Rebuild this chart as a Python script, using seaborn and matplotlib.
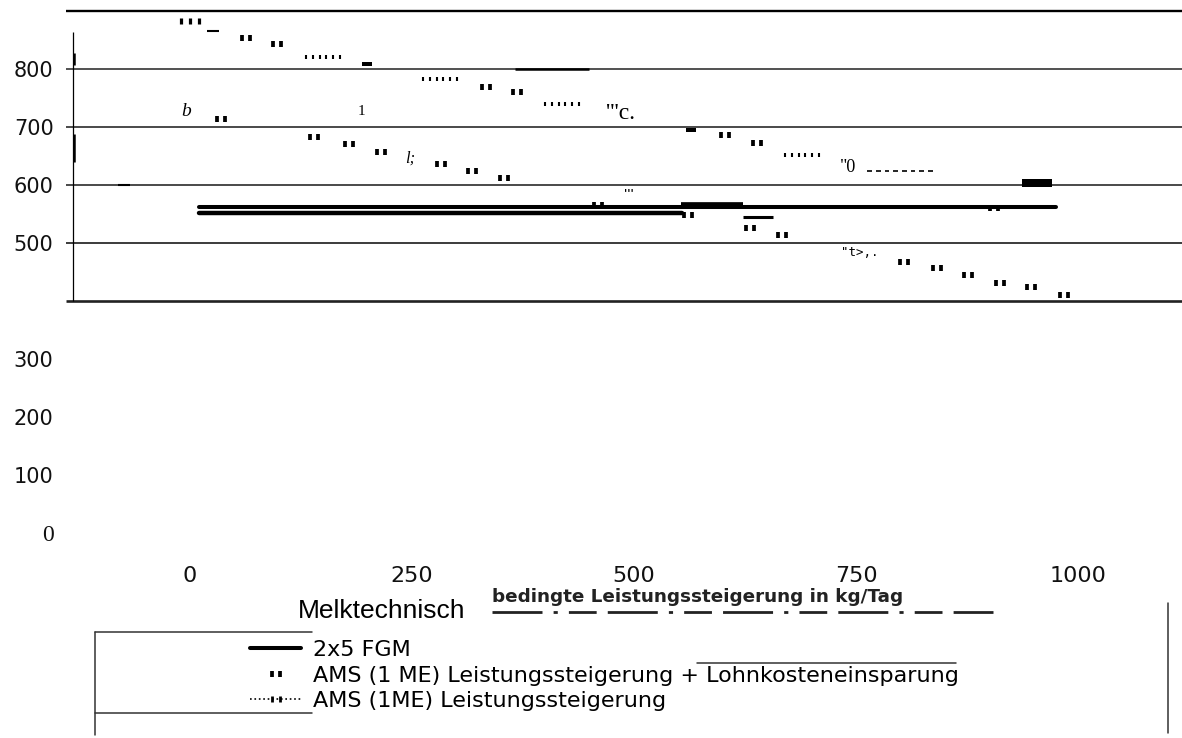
import numpy as np
import pandas as pd
import matplotlib
matplotlib.use("Agg")
import matplotlib.pyplot as plt
import seaborn as sns
from matplotlib.path import Path
from matplotlib.markers import MarkerStyle
from matplotlib.lines import Line2D

# ------------------------------------------------------------------ data
x_ticks = [0, 250, 500, 750, 1000]
y_ticks = [0, 100, 200, 300, 500, 600, 700, 800]
y_tick_labels = ["0", "100", "200", "300", "500", "600", "700", "800"]
grid_levels = [400, 500, 600, 700, 800, 900]

series_names = ["2x5 FGM",
                "AMS (1 ME) Leistungssteigerung + Lohnkosteneinsparung",
                "AMS (1ME) Leistungssteigerung"]

# AMS (1 ME) Leistungssteigerung + Lohnkosteneinsparung
ams_lohn_x = [0, 26, 63, 98, 150, 199, 282, 333, 368, 419, 485, 564, 602, 638, 689, 741, 802, 954]
ams_lohn_y = [883, 866, 853, 843, 821, 809, 783, 769, 760, 740, 724, 695, 686, 672, 652, 631, 624, 603]
ams_lohn_glyph = ["tick3", "dash", "pair", "pair", "run6", "bar", "run6", "pair", "pair", "run6",
                  "txt", "bar", "pair", "pair", "run6", "txt", "dashes", "bigbar"]
ams_lohn_txt = {10: "'''c.", 15: '"0'}

# AMS (1ME) Leistungssteigerung
ams_x = [-4, 35, 140, 179, 215, 248, 283, 318, 354, 561, 631, 667, 754, 804, 841, 876, 912, 947, 984]
ams_y = [726, 714, 683, 671, 657, 645, 636, 624, 612, 548, 526, 514, 484, 467, 457, 445, 431, 424, 410]
ams_glyph = ["txt", "pair", "pair", "pair", "pair", "txt", "pair", "pair", "pair", "pair", "pair",
             "pair", "txt", "pair", "pair", "pair", "pair", "pair", "pair"]
ams_txt = {0: "b", 5: "l;", 12: '"t>,.'}

# 2x5 FGM
fgm_x = [10, 975]
fgm_y = [562, 562]
fgm_twin_x = [10, 554]
fgm_twin_y = [551, 551]
fgm_mark_x = [459, 905]
fgm_mark_y = [565, 560]

# extra horizontal strokes of the scan
seg_x0 = [553, 623, 366, -81]
seg_x1 = [623, 656, 449, -68]
seg_y = [565, 544, 800, 600]

# stray characters of the scan (text, x, y)
stray_txt = ["1", "'''"]
stray_x = [193, 494]
stray_y = [726, 586]

# ------------------------------------------------------------------ style
sns.set_theme(style="white")
plt.rcParams["font.family"] = ["DejaVu Sans"]

W, H = 1182, 738
fig = plt.figure(figsize=(W / 100, H / 100), dpi=100)


def fx(px):
    return px / W


def fy(py):
    return 1 - py / H


ax = fig.add_axes([fx(73), fy(565), 1 - fx(73), (565 - 9.26) / H])
XMIN, XMAX = -131.76, 1117.1
ax.set_xlim(XMIN, XMAX)
ax.set_ylim(-55.2, 903)
for s in ax.spines.values():
    s.set_visible(False)


def ticks_path(n, h):
    verts, codes = [], []
    for x in np.linspace(-1, 1, n):
        verts += [(x, -h), (x, h)]
        codes += [Path.MOVETO, Path.LINETO]
    return Path(verts, codes)


def dashes_path(n):
    verts, codes = [], []
    step = 2.0 / n
    for i in range(n):
        a = -1 + i * step
        verts += [(a, 0), (a + step * 0.55, 0)]
        codes += [Path.MOVETO, Path.LINETO]
    return Path(verts, codes)


def rect_path(h):
    return Path([(-1, -h), (1, -h), (1, h), (-1, h), (-1, -h)],
                [Path.MOVETO, Path.LINETO, Path.LINETO, Path.LINETO, Path.CLOSEPOLY])


glyphs = {
    "pair": dict(path=ticks_path(2, 0.75), size=6.3, lw=2.7),
    "tick3": dict(path=ticks_path(3, 0.35), size=13, lw=2.3),
    "run6": dict(path=ticks_path(6, 0.12), size=25, lw=1.5),
    "dash": dict(path=Path([(-1, 0), (1, 0)]), size=8.6, lw=1.5),
    "dashes": dict(path=dashes_path(8), size=50, lw=1.2),
    "bar": dict(path=rect_path(0.45), size=7.9, lw=0),
    "bigbar": dict(path=rect_path(0.26), size=22.3, lw=0),
}

txt_style = {
    "'''c.": dict(family="Liberation Serif", size=17),
    '"0': dict(family="Liberation Serif", size=13),
    "b": dict(family="Liberation Serif", style="italic", size=14),
    "l;": dict(family="Liberation Serif", style="italic", size=12),
    '"t>,.': dict(family="DejaVu Sans Mono", size=9),
    "1": dict(family="Liberation Serif", size=11),
    "'''": dict(family="DejaVu Sans", weight="bold", size=8),
}

# ------------------------------------------------------------------ grid / axis
grid_lw = {400: 1.9, 500: 1.2, 600: 1.2, 700: 1.2, 800: 1.2, 900: 1.7}
grid_col = {400: "#222222", 500: "#1a1a1a", 600: "#2a2a2a", 700: "#2a2a2a", 800: "#333333", 900: "#000000"}
for g in grid_levels:
    ax.hlines(g, XMIN - 8, XMAX, colors=grid_col[g], lw=grid_lw[g], clip_on=False, zorder=1)
ax.vlines(XMIN, 400, 864, colors="black", lw=0.9, clip_on=False, zorder=1)
ax.vlines([XMIN + 1.5, XMIN + 1.5], [807, 640], [828, 688], colors="black", lw=1.8,
          clip_on=False, zorder=1)

# ------------------------------------------------------------------ series


def draw_series(xs, ys, kinds, txts):
    df = pd.DataFrame({"x": xs, "y": ys, "kind": kinds})
    for kind, spec in glyphs.items():
        sub = df[df["kind"] == kind]
        if sub.empty:
            continue
        sns.scatterplot(data=sub, x="x", y="y", ax=ax, marker=MarkerStyle(spec["path"]),
                        s=spec["size"] ** 2, color="black", edgecolor="black",
                        linewidth=spec["lw"], legend=False, zorder=4)
    for i, t in txts.items():
        ax.text(xs[i], ys[i], t, ha="center", va="center", color="black", zorder=4, **txt_style[t])


sns.lineplot(x=fgm_x, y=fgm_y, ax=ax, color="black", lw=2.9, zorder=3)
sns.lineplot(x=fgm_twin_x, y=fgm_twin_y, ax=ax, color="black", lw=3.2, zorder=3)
ax.hlines(seg_y, seg_x0, seg_x1, colors="black", lw=[4.1, 2.2, 1.8, 1.5], zorder=3, clip_on=False)
draw_series(fgm_mark_x, fgm_mark_y, ["pair"] * len(fgm_mark_x), {})
draw_series(ams_lohn_x, ams_lohn_y, ams_lohn_glyph, ams_lohn_txt)
draw_series(ams_x, ams_y, ams_glyph, ams_txt)
for t, x, y in zip(stray_txt, stray_x, stray_y):
    ax.text(x, y, t, ha="center", va="center", color="black", zorder=4, **txt_style[t])

# ------------------------------------------------------------------ ticks
ax.set_xlabel("")
ax.set_ylabel("")
ax.set_xticks(x_ticks)
ax.set_xticklabels([str(v) for v in x_ticks], fontsize=16, color="#111111")
ax.set_yticks(y_ticks)
ax.set_yticklabels(y_tick_labels, fontsize=15, color="#111111")
ax.tick_params(axis="both", length=0)
ax.tick_params(axis="y", pad=14)
ax.tick_params(axis="x", pad=1)
for lab in ax.get_yticklabels():
    if lab.get_text() == "0":
        lab.set_family("Liberation Serif")
        lab.set_fontsize(17)

# ------------------------------------------------------------------ axis title (scan)
fig.text(fx(298), fy(618), "Melktechnisch", family="Liberation Sans", fontsize=19,
         ha="left", va="baseline", color="black")
fig.text(fx(492), fy(602), "bedingte Leistungssteigerung in kg/Tag", fontsize=13.2,
         weight="bold", ha="left", va="baseline", color="#222222")
fig.add_artist(Line2D([fx(492), fx(993)], [fy(612), fy(612)], transform=fig.transFigure,
                      color="#222222", lw=2.0, dashes=(18, 4, 1.5, 4, 10, 4)))

# ------------------------------------------------------------------ legend
pair_ms = MarkerStyle(glyphs["pair"]["path"])
h1 = Line2D([], [], color="black", lw=2.9)
h2 = Line2D([], [], ls="none", marker=pair_ms, ms=6.3, mew=2.7, color="black")
h3 = Line2D([], [], ls=":", lw=1.2, marker=pair_ms, ms=6.3, mew=2.0, color="black")
leg = fig.legend([h1, h2, h3], series_names, loc="upper left",
                 bbox_to_anchor=(fx(250), fy(640)), bbox_transform=fig.transFigure,
                 frameon=False, fontsize=16, handlelength=2.3, handletextpad=0.55,
                 labelspacing=0.25, borderpad=0, borderaxespad=0, numpoints=1)
for t in leg.get_texts():
    t.set_color("black")

deco = [((95, 632), (312, 632)), ((95, 632), (95, 735)), ((95, 713), (312, 713)),
        ((697, 663), (956, 663)), ((1168, 603), (1168, 733))]
for (x0, y0), (x1, y1) in deco:
    fig.add_artist(Line2D([fx(x0), fx(x1)], [fy(y0), fy(y1)], transform=fig.transFigure,
                          color="#333333", lw=1.1))

fig.savefig("out.png", dpi=100)
